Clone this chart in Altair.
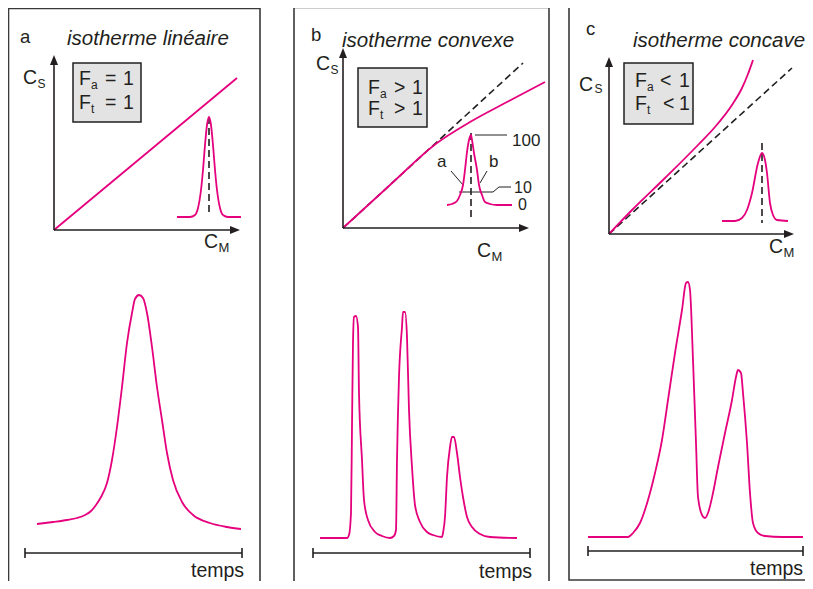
import altair as alt
import pandas as pd

MAG = "#e5007d"
INK = "#231f20"
FONT = "Liberation Sans"

# ---------------- data ----------------
# isotherms: C_M (x) and C_S (y) in inset units
ISO_A_CM = [0, 183]
ISO_A_CS = [0, 152]
ISO_B_CM = [0, 47, 94, 127, 164, 202]
ISO_B_CS = [0, 43, 85, 106, 126, 146]
ISO_C_CM = [0, 23, 56, 89, 106, 123, 133, 139, 144]
ISO_C_CS = [0, 24, 56, 89, 107, 129, 146, 160, 174]
LIN_B_CM = [0, 180]
LIN_B_CS = [0, 165]
LIN_C_CM = [0, 183]
LIN_C_CS = [0, 166]

# small elution profiles in the insets: offset from apex, height
PEAK_A_DX = [-32, -19, -14, -11, -8, -6, -4, -2, 0, 2, 4, 6, 8, 11, 14, 19, 32]
PEAK_A_H = [0, 0, 2, 9, 27, 47, 72, 92, 100, 92, 72, 47, 27, 9, 2, 0, 0]
PEAK_B_DX = [-24, -19, -14, -11, -8, -6, -4, -2, 0, 1, 3, 6, 8, 11, 14, 19, 26, 41]
PEAK_B_H = [0, 1, 4, 10, 20, 35, 53, 65, 70, 65, 52, 35, 20, 10, 3, 1, 0, 0]
PEAK_C_DX = [-40, -27, -20, -15, -10, -4, 0, 3, 5, 8, 11, 15, 26]
PEAK_C_H = [0, 0, 3, 11, 28, 58, 68, 61, 48, 18, 6, 1, 0]

# chromatograms: time and signal
CHROM_A_T = [12, 28, 42, 52, 60, 66, 71, 76, 82, 87, 92, 97, 102, 107, 110, 114, 118, 122, 127,
             132, 137, 142, 148, 157, 168, 185, 202, 216]
CHROM_A_S = [6, 8, 10, 12, 15, 19, 25, 33, 47, 70, 103, 143, 187, 217, 231, 235, 232, 217, 183,
             143, 110, 77, 50, 28, 15, 7, 3, 1]
CHROM_B_T = [7, 34, 36, 38, 39, 40, 41, 43, 45, 46, 49, 51, 55, 62, 69, 77, 81, 83, 84, 86,
             89, 90, 92, 94, 96, 99, 102, 107, 114, 120, 129, 130, 132, 134, 137, 139, 141,
             144, 147, 150, 154, 159, 167, 177, 204]
CHROM_B_S = [0, 0, 3, 25, 111, 195, 221, 222, 211, 145, 78, 38, 18, 6, 2, 0, 2, 8, 78, 161,
             211, 226, 226, 201, 128, 71, 33, 16, 6, 3, 1, 5, 21, 61, 91, 101, 101,
             85, 61, 41, 21, 11, 4, 1, 0]
CHROM_C_T = [0, 40, 45, 52, 60, 67, 74, 80, 87, 94, 98, 100, 102, 105, 108, 110, 114, 117,
             120, 125, 130, 137, 144, 148, 150, 153, 155, 159, 162, 165, 170, 177, 194, 215]
CHROM_C_S = [0, 0, 4, 14, 37, 64, 97, 137, 184, 227, 254, 255, 247, 177, 94, 40, 22, 19,
             24, 44, 70, 104, 137, 160, 167, 164, 144, 94, 44, 14, 4, 1, 0, 0]

TITLES = {"a": "isotherme linéaire", "b": "isotherme convexe", "c": "isotherme concave"}
RELATION = {"a": "=", "b": ">", "c": "<"}

# ---------------- layout ----------------
W, H = 797, 573
L = {
    "a": dict(border=(8.5, 260, 8.5, 600), box=(73, 141, 63, 122), origin=(54, 230),
              xlen=186, ylen=175, peak=(209, 217), dash=(117, 215), chrom=(25, 530),
              tl=(25, 242, 553)),
    "b": dict(border=(294, 549, 7.5, 600), box=(358, 427, 68, 127), origin=(343, 228),
              xlen=186, ylen=180, peak=(471, 205), dash=(133, 218), chrom=(313, 538),
              tl=(313, 530, 553)),
    "c": dict(border=(569, 830, 5.5, 580), box=(624, 693, 63, 124), origin=(609, 234),
              xlen=185, ylen=177, peak=(762, 221), dash=(143, 223), chrom=(588, 537),
              tl=(588, 803, 551)),
}

curves = []


def add_curve(cid, xv, yv):
    for a, b in zip(xv, yv):
        curves.append(dict(id=cid, x=a, y=b))


dashed = []
solid = []
thin = []
arrows_up = []
arrows_right = []
borders = []
boxes = []

iso = {"a": (ISO_A_CM, ISO_A_CS), "b": (ISO_B_CM, ISO_B_CS), "c": (ISO_C_CM, ISO_C_CS)}
lin = {"b": (LIN_B_CM, LIN_B_CS), "c": (LIN_C_CM, LIN_C_CS)}
peaks = {"a": (PEAK_A_DX, PEAK_A_H), "b": (PEAK_B_DX, PEAK_B_H), "c": (PEAK_C_DX, PEAK_C_H)}
chroms = {"a": (CHROM_A_T, CHROM_A_S), "b": (CHROM_B_T, CHROM_B_S), "c": (CHROM_C_T, CHROM_C_S)}

for k, g in L.items():
    x0, x1, y0, y1 = g["border"]
    borders.append(dict(x=x0, x2=x1, y=y0, y2=y1))
    bx0, bx1, by0, by1 = g["box"]
    boxes.append(dict(x=bx0, x2=bx1, y=by0, y2=by1))
    ox, oy = g["origin"]
    cm, cs = iso[k]
    add_curve("iso_" + k, [ox + v for v in cm], [oy - v for v in cs])
    if k in lin:
        cm, cs = lin[k]
        dashed.append(dict(x=ox + cm[0], y=oy - cs[0], x2=ox + cm[1], y2=oy - cs[1]))
    px, pb = g["peak"]
    dx, hh = peaks[k]
    add_curve("pk_" + k, [px + v for v in dx], [pb - v for v in hh])
    dashed.append(dict(x=px, y=g["dash"][0], x2=px, y2=g["dash"][1]))
    t0, base = g["chrom"]
    tt, ss = chroms[k]
    add_curve("ch_" + k, [t0 + v for v in tt], [base - v for v in ss])
    # inset axes
    solid.append(dict(x=ox, y=oy, x2=ox, y2=oy - g["ylen"] + 9))
    solid.append(dict(x=ox, y=oy, x2=ox + g["xlen"] - 9, y2=oy))
    arrows_up.append(dict(x=ox, y=oy - g["ylen"] + 5))
    arrows_right.append(dict(x=ox + g["xlen"] - 5, y=oy))
    # time line
    ta, tb, ty = g["tl"]
    solid.append(dict(x=ta, y=ty, x2=tb, y2=ty))
    solid.append(dict(x=ta, y=ty - 5, x2=ta, y2=ty + 5))
    solid.append(dict(x=tb, y=ty - 5, x2=tb, y2=ty + 5))

# annotation leaders in panel b
thin += [
    dict(x=475, y=135, x2=507, y2=135),
    dict(x=459, y=192, x2=493, y2=192),
    dict(x=493, y=192, x2=499, y2=187),
    dict(x=499, y=187, x2=511, y2=187),
    dict(x=451, y=171, x2=463, y2=185),
    dict(x=487, y=171, x2=480, y2=183),
]

texts = []
BIG = 19.5
SUB = 12


def T(x, y, s, fs=BIG):
    texts.append(dict(x=x, y=y, text=s, fs=fs))


# panel a
T(20, 43, "a", 18.5)
T(23, 84, "C"); T(37.5, 88, "S", SUB)
T(204, 248, "C"); T(218.5, 252, "M", 13)
T(191, 577, "temps")
# panel b
T(311, 41, "b", 18.5)
T(316, 70, "C"); T(330.5, 74, "S", SUB)
T(477, 257, "C"); T(491.5, 261, "M", 13)
T(479, 578, "temps")
T(512, 146, "100", 17); T(514, 193, "10", 16); T(518, 210, "0", 16)
T(437, 167, "a", 17); T(489, 167, "b", 17)
# panel c
T(586, 35, "c", 18.5)
T(579, 91, "C"); T(594.5, 93, "S", SUB)
T(769, 253, "C"); T(783.5, 257, "M", 13)
T(750, 575, "temps")

# F_a / F_t boxes
FPOS = {"a": (79, 85, 109, 105, 123), "b": (368, 94, 115, 394, 412), "c": (635, 87, 110, 660, 679)}
for k, (fx, b1, b2, rx, nx) in FPOS.items():
    for base, sub in ((b1, "a"), (b2, "t")):
        T(fx, base, "F")
        T(fx + 12, base + 4, sub, SUB)
        T(rx + (3 if (k == "c" and sub == "t") else 0), base, RELATION[k])
        T(nx, base, "1")

titles = [
    dict(x=67, y=45, text=TITLES["a"], fs=20.5),
    dict(x=342, y=47, text=TITLES["b"], fs=20.5),
    dict(x=633, y=47, text=TITLES["c"], fs=20.5),
]

# ---------------- chart ----------------
xs = alt.Scale(domain=[8, 8 + W], nice=False, zero=False)
ys = alt.Scale(domain=[8, 8 + H], nice=False, zero=False, reverse=True)


def enc_xy():
    return dict(x=alt.X("x:Q", scale=xs, axis=None), y=alt.Y("y:Q", scale=ys, axis=None))


def enc_seg():
    d = enc_xy()
    d.update(x2=alt.X2("x2:Q"), y2=alt.Y2("y2:Q"))
    return d


layers = [
    alt.Chart(pd.DataFrame(borders)).mark_rect(fillOpacity=0, stroke="#3a3a3a", strokeWidth=1.6).encode(**enc_seg()),
    alt.Chart(pd.DataFrame(boxes)).mark_rect(fill="#e3e3e3", stroke=INK, strokeWidth=1.5).encode(**enc_seg()),
    alt.Chart(pd.DataFrame(dashed)).mark_rule(color=INK, strokeWidth=1.6, strokeDash=[7, 4]).encode(**enc_seg()),
    alt.Chart(pd.DataFrame(thin)).mark_rule(color=INK, strokeWidth=1).encode(**enc_seg()),
    alt.Chart(pd.DataFrame(curves)).mark_line(color=MAG, strokeWidth=1.8, interpolate="monotone").encode(
        detail="id:N", **enc_xy()),
    alt.Chart(pd.DataFrame(solid)).mark_rule(color=INK, strokeWidth=1.6).encode(**enc_seg()),
    alt.Chart(pd.DataFrame(arrows_up)).mark_point(shape="M0,-1L-0.8,1L0.8,1Z", size=100, filled=True,
                                                   color=INK, opacity=1, strokeWidth=0).encode(**enc_xy()),
    alt.Chart(pd.DataFrame(arrows_right)).mark_point(shape="M1,0L-1,-0.8L-1,0.8Z", size=100, filled=True,
                                                      color=INK, opacity=1, strokeWidth=0).encode(**enc_xy()),
    alt.Chart(pd.DataFrame(texts)).mark_text(align="left", baseline="alphabetic", font=FONT, color=INK).encode(
        text="text:N", size=alt.Size("fs:Q", scale=None), **enc_xy()),
    alt.Chart(pd.DataFrame(titles)).mark_text(align="left", baseline="alphabetic", font=FONT, color=INK,
                                              fontStyle="italic").encode(
        text="text:N", size=alt.Size("fs:Q", scale=None), **enc_xy()),
]

chart = alt.layer(*layers).properties(
    width=W, height=H, padding=0, autosize=alt.AutoSizeParams(type="none"), background="white"
).configure_view(stroke=None)

chart.save("out.html", embed_options={"renderer": "svg", "actions": False})
